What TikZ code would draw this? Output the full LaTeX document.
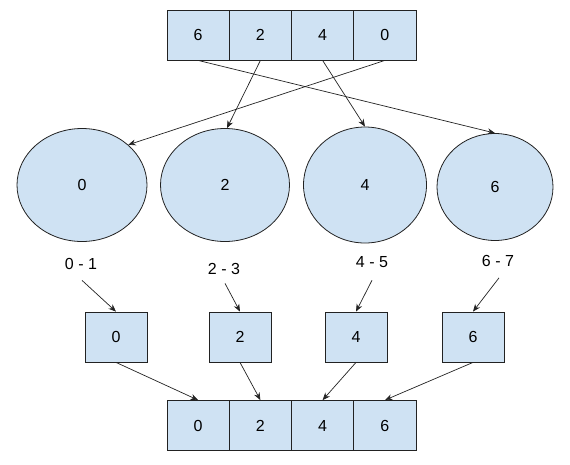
\documentclass[tikz,border=0pt]{standalone}
\usepackage{fontspec}
\setmainfont{Liberation Sans}
\usetikzlibrary{arrows.meta,shapes.geometric}
\definecolor{boxblue}{HTML}{CFE2F3}
\definecolor{edge}{HTML}{222222}
\begin{document}
\begin{tikzpicture}[x=1pt,y=-1pt,
  txt/.style={font=\fontsize{16}{19}\selectfont},
  cell/.style={txt, draw=edge, fill=boxblue, minimum width=62.25pt, minimum height=50pt, inner sep=0pt, line width=0.8pt},
  sbox/.style={cell, minimum width=62pt, minimum height=50pt},
  oval/.style={txt, ellipse, draw=edge, fill=boxblue, inner sep=0pt, line width=0.8pt},
  lbl/.style={txt, inner sep=0pt},
  conn/.style={draw=edge, line width=0.7pt, -{Stealth[length=7.5pt,width=6pt]}}]
\useasboundingbox (0,0) rectangle (570,464);
% top array
\node[cell] (t6) at (198.1,35) {6};
\node[cell] (t2) at (260.4,35) {2};
\node[cell] (t4) at (322.6,35) {4};
\node[cell] (t0) at (384.9,35) {0};
% ellipses
\node[oval, minimum width=130pt, minimum height=113pt] (e0) at (82,185) {0};
\node[oval, minimum width=129pt, minimum height=113pt] (e2) at (225,185) {2};
\node[oval, minimum width=123pt, minimum height=116pt] (e4) at (365,185) {4};
\node[oval, minimum width=116pt, minimum height=107pt] (e6) at (495,187) {6};
% labels
\node[lbl] (l0) at (81,263.5) {0 - 1};
\node[lbl] (l2) at (224,268.5) {2 - 3};
\node[lbl] (l4) at (372,262.5) {4 - 5};
\node[lbl] (l6) at (498,261) {6 - 7};
% small boxes
\node[sbox] (b0) at (116,337) {0};
\node[sbox] (b2) at (240,337) {2};
\node[sbox] (b4) at (356,337) {4};
\node[sbox] (b6) at (473,337) {6};
% bottom array
\node[cell] (c0) at (198.1,425.5) {0};
\node[cell] (c2) at (260.4,425.5) {2};
\node[cell] (c4) at (322.6,425.5) {4};
\node[cell] (c6) at (384.9,425.5) {6};
% top arrows
\draw[conn] (t6.south) -- (e6.north);
\draw[conn] (t2.south) -- (e2.88);
\draw[conn] (t4.south) -- (e4.north);
\draw[conn] (t0.south) -- (e0.41);
% label arrows
\draw[conn] ([xshift=1pt,yshift=-11pt]l0.south) -- (b0.north);
\draw[conn] ([xshift=1pt,yshift=-9pt]l2.south) -- (b2.north);
\draw[conn] ([yshift=-12pt]l4.south) -- (b4.north);
\draw[conn] ([xshift=1pt,yshift=-11pt]l6.south) -- (b6.north);
% bottom arrows
\draw[conn] (b0.south) -- (c0.north);
\draw[conn] (b2.south) -- (c2.north);
\draw[conn] (b4.south) -- (c4.north);
\draw[conn] (b6.south) -- (c6.north);
\end{tikzpicture}
\end{document}
